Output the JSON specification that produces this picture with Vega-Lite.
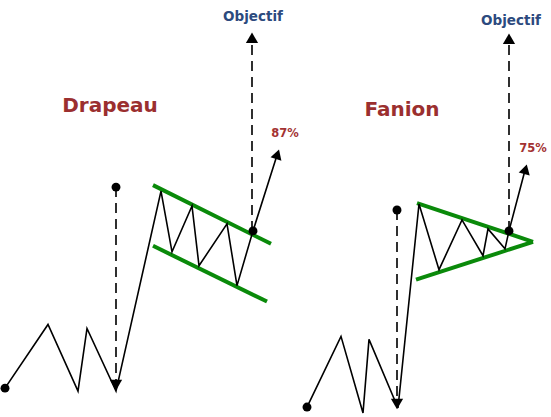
{
  "$schema": "https://vega.github.io/schema/vega-lite/v6.json",
  "width": 551,
  "height": 417,
  "autosize": {"type": "fit", "contains": "padding"},
  "padding": 0,
  "background": "white",
  "config": {"view": {"stroke": null}, "axis": {"disable": true}},
  "datasets": {
    "lines": [
      {"g": "prix_drapeau", "o": 1, "x": 5, "y": 390},
      {"g": "prix_drapeau", "o": 2, "x": 48, "y": 326},
      {"g": "prix_drapeau", "o": 3, "x": 78, "y": 393},
      {"g": "prix_drapeau", "o": 4, "x": 87, "y": 330},
      {"g": "prix_drapeau", "o": 5, "x": 116, "y": 393},
      {"g": "prix_drapeau", "o": 6, "x": 161, "y": 192},
      {"g": "prix_drapeau", "o": 7, "x": 172, "y": 253},
      {"g": "prix_drapeau", "o": 8, "x": 192, "y": 207},
      {"g": "prix_drapeau", "o": 9, "x": 199, "y": 267},
      {"g": "prix_drapeau", "o": 10, "x": 227, "y": 225},
      {"g": "prix_drapeau", "o": 11, "x": 237, "y": 287},
      {"g": "prix_drapeau", "o": 12, "x": 253, "y": 232},
      {"g": "prix_drapeau", "o": 13, "x": 277, "y": 156},
      {"g": "prix_fanion", "o": 1, "x": 307, "y": 409},
      {"g": "prix_fanion", "o": 2, "x": 341, "y": 338},
      {"g": "prix_fanion", "o": 3, "x": 363, "y": 415},
      {"g": "prix_fanion", "o": 4, "x": 369, "y": 341},
      {"g": "prix_fanion", "o": 5, "x": 398, "y": 410},
      {"g": "prix_fanion", "o": 6, "x": 419, "y": 205},
      {"g": "prix_fanion", "o": 7, "x": 439, "y": 271},
      {"g": "prix_fanion", "o": 8, "x": 462, "y": 221},
      {"g": "prix_fanion", "o": 9, "x": 483, "y": 257},
      {"g": "prix_fanion", "o": 10, "x": 488, "y": 230},
      {"g": "prix_fanion", "o": 11, "x": 505, "y": 250},
      {"g": "prix_fanion", "o": 12, "x": 509, "y": 232},
      {"g": "prix_fanion", "o": 13, "x": 525, "y": 171}
    ],
    "trend": [
      {"g": "drapeau_haut", "o": 1, "x": 153, "y": 186},
      {"g": "drapeau_haut", "o": 2, "x": 271, "y": 245},
      {"g": "drapeau_bas", "o": 1, "x": 153, "y": 247},
      {"g": "drapeau_bas", "o": 2, "x": 267, "y": 303},
      {"g": "fanion_haut", "o": 1, "x": 417, "y": 204},
      {"g": "fanion_haut", "o": 2, "x": 533, "y": 243},
      {"g": "fanion_bas", "o": 1, "x": 416, "y": 281},
      {"g": "fanion_bas", "o": 2, "x": 533, "y": 243}
    ],
    "dashes": [
      {"g": "mat_drapeau", "o": 1, "x": 116, "y": 188},
      {"g": "mat_drapeau", "o": 2, "x": 116, "y": 382},
      {"g": "obj_drapeau", "o": 1, "x": 252, "y": 232},
      {"g": "obj_drapeau", "o": 2, "x": 252, "y": 42},
      {"g": "mat_fanion", "o": 1, "x": 397, "y": 211},
      {"g": "mat_fanion", "o": 2, "x": 397, "y": 401},
      {"g": "obj_fanion", "o": 1, "x": 509, "y": 232},
      {"g": "obj_fanion", "o": 2, "x": 509, "y": 43}
    ],
    "dots": [
      {"x": 5, "y": 390},
      {"x": 116, "y": 188},
      {"x": 253, "y": 232},
      {"x": 307, "y": 409},
      {"x": 397, "y": 211},
      {"x": 509, "y": 232}
    ],
    "heads": [
      {"dir": "haut", "x": 252, "y": 38},
      {"dir": "haut", "x": 509, "y": 39},
      {"dir": "bas", "x": 116, "y": 387},
      {"dir": "bas", "x": 397, "y": 406},
      {"dir": "drapeau", "x": 277.5, "y": 155},
      {"dir": "fanion", "x": 525.5, "y": 170}
    ],
    "labels": [
      {"kind": "titre", "label": "Drapeau", "x": 110, "y": 107},
      {"kind": "titre", "label": "Fanion", "x": 402, "y": 111},
      {"kind": "objectif", "label": "Objectif", "x": 253, "y": 17},
      {"kind": "objectif", "label": "Objectif", "x": 511, "y": 21},
      {"kind": "pct", "label": "87%", "x": 285, "y": 135},
      {"kind": "pct", "label": "75%", "x": 533, "y": 150}
    ]
  },
  "encoding": {
    "x": {"field": "x", "type": "quantitative", "scale": {"domain": [0, 551], "nice": false, "zero": false}},
    "y": {"field": "y", "type": "quantitative", "scale": {"domain": [0, 417], "nice": false, "zero": false, "reverse": true}}
  },
  "layer": [
    {
      "data": {"name": "trend"},
      "mark": {"type": "line", "color": "#0a8a0a", "strokeWidth": 4, "strokeCap": "butt"},
      "encoding": {"detail": {"field": "g"}, "order": {"field": "o"}}
    },
    {
      "data": {"name": "dashes"},
      "mark": {"type": "line", "color": "#1a1a1a", "strokeWidth": 1.8, "strokeDash": [10, 6]},
      "encoding": {"detail": {"field": "g"}, "order": {"field": "o"}}
    },
    {
      "data": {"name": "lines"},
      "mark": {"type": "line", "color": "black", "strokeWidth": 1.6, "strokeJoin": "miter"},
      "encoding": {"detail": {"field": "g"}, "order": {"field": "o"}}
    },
    {
      "data": {"name": "dots"},
      "mark": {"type": "point", "filled": true, "color": "black", "opacity": 1, "size": 80}
    },
    {
      "data": {"name": "heads"},
      "transform": [{"filter": "datum.dir == 'haut'"}],
      "mark": {"type": "point", "shape": "triangle-up", "filled": true, "color": "black", "opacity": 1, "size": 150}
    },
    {
      "data": {"name": "heads"},
      "transform": [{"filter": "datum.dir == 'bas'"}],
      "mark": {"type": "point", "shape": "triangle-down", "filled": true, "color": "black", "opacity": 1, "size": 150}
    },
    {
      "data": {"name": "heads"},
      "transform": [{"filter": "datum.dir == 'drapeau'"}],
      "mark": {"type": "point", "shape": "triangle-up", "filled": true, "color": "black", "opacity": 1, "size": 130, "angle": 18}
    },
    {
      "data": {"name": "heads"},
      "transform": [{"filter": "datum.dir == 'fanion'"}],
      "mark": {"type": "point", "shape": "triangle-up", "filled": true, "color": "black", "opacity": 1, "size": 130, "angle": 15}
    },
    {
      "data": {"name": "labels"},
      "transform": [{"filter": "datum.kind == 'titre'"}],
      "mark": {"type": "text", "font": "DejaVu Sans", "fontWeight": "bold", "fontSize": 20, "color": "#9b2f2f", "baseline": "middle", "align": "center"},
      "encoding": {"text": {"field": "label"}}
    },
    {
      "data": {"name": "labels"},
      "transform": [{"filter": "datum.kind == 'objectif'"}],
      "mark": {"type": "text", "font": "DejaVu Sans", "fontWeight": "bold", "fontSize": 13.5, "color": "#2c4a7e", "baseline": "middle", "align": "center"},
      "encoding": {"text": {"field": "label"}}
    },
    {
      "data": {"name": "labels"},
      "transform": [{"filter": "datum.kind == 'pct'"}],
      "mark": {"type": "text", "font": "DejaVu Sans", "fontWeight": "bold", "fontSize": 11.5, "color": "#a33232", "baseline": "middle", "align": "center"},
      "encoding": {"text": {"field": "label"}}
    }
  ]
}
